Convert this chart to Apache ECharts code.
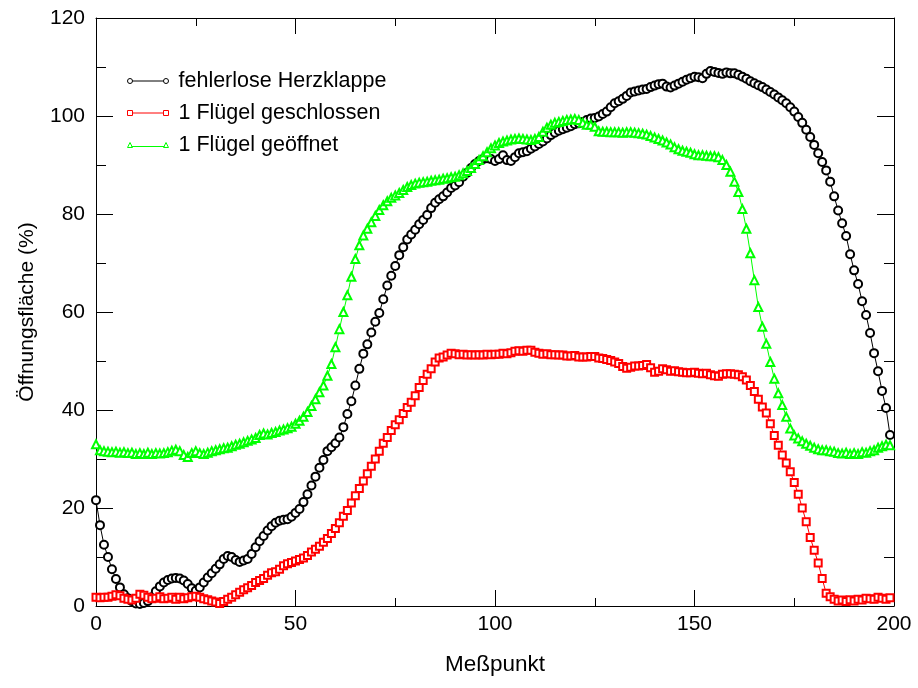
<!DOCTYPE html>
<html>
<head>
<meta charset="utf-8">
<script src="https://cdn.jsdelivr.net/npm/echarts@6/dist/echarts.min.js"></script>
<style>
html,body{margin:0;padding:0;background:#fff;}
#chart{width:918px;height:688px;}
</style>
</head>
<body>
<div id="chart"></div>
<script>
// Messpunkt index 0..199
const measurePoints = Array.from({length: 200}, (_, i) => i);

const seriesNames = ['fehlerlose Herzklappe', '1 Flügel geschlossen', '1 Flügel geöffnet'];

const xTicks = [0, 50, 100, 150, 200];
const yTicks = [0, 20, 40, 60, 80, 100, 120];

const healthyValve = [
21.6,16.5,12.5,10.0,7.5,5.5,3.8,2.4,1.6,1.0,
0.5,0.4,0.6,1.0,1.8,3.0,4.0,4.8,5.3,5.6,
5.7,5.6,5.2,4.5,3.6,3.1,3.8,4.8,5.8,6.7,
7.6,8.5,9.6,10.2,10.0,9.4,9.0,9.3,9.6,10.6,
12.0,13.2,14.3,15.4,16.3,17.0,17.4,17.6,17.7,18.2,
19.0,19.8,21.2,22.8,24.6,26.4,28.2,29.8,31.6,32.4,
33.2,34.4,36.5,39.2,41.8,45.0,48.4,51.5,53.4,55.8,
58.0,59.8,62.6,65.4,67.4,69.4,71.6,73.2,74.8,75.8,
76.8,77.9,78.8,79.8,81.2,82.3,83.0,83.6,84.4,85.3,
85.8,86.5,87.6,88.4,89.4,90.2,90.8,91.2,91.4,91.2,
90.8,91.2,92.0,91.0,90.8,91.6,92.4,92.6,92.8,93.3,
93.8,94.3,94.8,95.4,96.1,96.6,97.0,97.3,97.6,97.9,
98.3,98.5,98.8,99.2,99.5,99.6,99.9,100.4,100.9,101.8,
102.6,103.0,103.5,104.1,104.8,105.0,105.2,105.4,105.5,105.9,
106.2,106.5,106.6,106.0,105.8,106.2,106.6,107.0,107.4,107.7,
108.0,107.9,107.7,108.6,109.2,109.0,108.8,108.6,108.9,108.7,
108.7,108.4,108.0,107.6,107.1,106.7,106.3,105.9,105.4,104.9,
104.4,103.8,103.2,102.6,101.8,100.9,99.8,98.6,97.2,95.7,
94.1,92.4,90.6,88.9,86.6,83.6,80.7,78.1,75.5,71.8,
68.5,65.7,62.2,59.4,55.7,51.6,47.9,43.9,40.4,34.9
];

const leafletClosed = [
1.8,1.7,1.8,1.8,2.0,2.3,2.1,1.6,1.4,1.2,
1.6,2.4,2.2,1.8,1.5,1.6,1.9,1.5,1.6,1.8,
1.4,1.8,1.5,1.7,1.9,2.0,1.8,1.5,1.3,1.0,
0.8,0.5,0.9,1.4,1.8,2.3,2.8,3.3,3.7,4.2,
4.8,5.2,5.6,6.3,6.8,7.0,7.5,8.2,8.6,8.9,
9.2,9.5,9.8,10.3,11.0,11.6,12.2,13.0,13.8,14.8,
15.8,17.0,18.3,19.5,21.0,22.5,24.0,25.5,27.0,28.5,
30.0,31.6,33.2,34.4,35.8,37.0,38.0,39.3,40.5,41.6,
42.9,44.6,46.0,47.3,48.4,49.8,50.6,50.8,51.2,51.6,
51.5,51.3,51.4,51.2,51.3,51.2,51.3,51.2,51.4,51.3,
51.4,51.4,51.6,51.5,51.7,52.0,52.1,52.0,52.2,52.2,
51.8,51.6,51.4,51.5,51.3,51.3,51.2,51.2,51.0,51.0,
51.1,50.8,50.8,50.8,50.9,50.9,50.6,50.5,50.3,50.1,
49.8,49.5,48.9,48.5,48.7,49.0,49.0,49.1,49.3,48.6,
47.7,47.9,48.4,48.2,47.9,48.0,47.8,47.7,47.6,47.6,
47.7,47.5,47.4,47.5,47.2,47.0,46.9,47.3,47.4,47.4,
47.3,47.2,46.8,46.1,45.0,43.8,42.2,40.6,39.4,37.2,
34.8,32.8,30.8,29.2,27.4,25.2,22.8,20.0,17.2,14.0,
11.4,8.8,5.6,2.6,1.9,1.4,1.0,1.2,0.9,1.3,
1.0,1.4,1.2,1.6,1.5,1.4,1.8,1.6,1.4,1.7
];

const leafletOpen = [
33.0,31.8,31.6,31.5,31.4,31.5,31.3,31.4,31.2,31.3,
31.0,31.2,31.0,31.3,31.0,31.2,31.1,31.2,31.4,31.7,
31.9,31.6,30.8,30.4,31.2,31.6,31.2,31.0,31.3,31.6,
31.8,32.0,32.2,32.3,32.6,32.9,33.1,33.4,33.7,34.0,
34.3,34.9,35.2,35.0,35.3,35.5,35.8,36.0,36.3,36.6,
37.2,37.8,38.6,39.6,40.8,42.2,43.6,45.0,47.0,49.4,
52.8,56.5,60.0,63.4,67.2,70.8,73.6,75.6,77.0,78.3,
79.6,80.8,81.8,82.6,83.3,83.8,84.3,84.9,85.5,85.9,
86.2,86.4,86.5,86.6,86.8,86.9,87.0,87.2,87.3,87.5,
87.6,87.9,88.3,88.8,89.4,90.2,91.0,91.8,92.6,93.4,
94.0,94.5,94.8,95.0,95.2,95.3,95.4,95.3,95.2,95.1,
95.3,95.7,96.8,97.6,98.2,98.6,98.8,99.0,99.2,99.3,
99.4,99.2,98.6,98.2,98.2,97.8,96.9,96.8,96.8,96.7,
96.7,96.7,96.6,96.7,96.7,96.6,96.5,96.4,96.2,95.9,
95.6,95.3,95.0,94.6,94.2,93.6,93.2,92.9,92.7,92.5,
92.2,92.0,92.0,91.9,91.8,91.8,91.6,91.0,90.0,88.6,
86.6,84.5,81.0,77.0,72.0,66.5,61.0,57.0,53.5,49.8,
46.4,43.4,41.0,38.6,36.2,34.8,34.2,33.6,33.1,32.7,
32.3,32.0,31.8,31.8,31.6,31.5,31.2,31.1,31.3,31.0,
31.2,31.0,31.4,31.3,31.6,31.8,32.3,32.6,32.9,32.8
];

const FONT = 'Liberation Sans, Arial, Helvetica, sans-serif';

function pairs(vals) { return vals.map((v, i) => [measurePoints[i], v]); }

const chart = echarts.init(document.getElementById('chart'), null, {renderer: 'canvas'});

function xAxisCfg(pos, labels) {
  return {
    type: 'value', position: pos, min: xTicks[0], max: xTicks[xTicks.length - 1],
    interval: xTicks[1] - xTicks[0],
    axisLine: {show: true, onZero: false, lineStyle: {color: '#000', width: 1}},
    axisTick: {show: true, inside: true, length: 16, lineStyle: {color: '#000', width: 1}},
    minorTick: {show: true, splitNumber: 2, length: 8, lineStyle: {color: '#000', width: 1}},
    splitLine: {show: false},
    axisLabel: {show: labels, color: '#000', fontSize: 21, fontFamily: FONT, margin: 8},
    name: labels ? 'Meßpunkt' : '', nameLocation: 'middle', nameGap: 47,
    nameTextStyle: {color: '#000', fontSize: 22.5, fontFamily: FONT}
  };
}
function yAxisCfg(pos, labels) {
  return {
    type: 'value', position: pos, min: yTicks[0], max: yTicks[yTicks.length - 1],
    interval: yTicks[1] - yTicks[0],
    axisLine: {show: true, onZero: false, lineStyle: {color: '#000', width: 1}},
    axisTick: {show: true, inside: true, length: 17, lineStyle: {color: '#000', width: 1}},
    minorTick: {show: true, splitNumber: 2, length: 10, lineStyle: {color: '#000', width: 1}},
    splitLine: {show: false},
    axisLabel: {show: labels, color: '#000', fontSize: 21, fontFamily: FONT, margin: 11},
    name: labels ? 'Öffnungsfläche (%)' : '', nameLocation: 'middle', nameGap: 58, nameRotate: 90,
    nameTextStyle: {color: '#000', fontSize: 21, fontFamily: FONT}
  };
}

const iconCircle = 'path://M0,2.5A2.5,2.5 0 1,1 5,2.5A2.5,2.5 0 1,1 0,2.5ZM5,2.5L36,2.5M36,2.5A2.5,2.5 0 1,1 41,2.5A2.5,2.5 0 1,1 36,2.5Z';
const iconSquare = 'path://M0,0L5,0L5,5L0,5ZM5,2.5L36,2.5M36,0L41,0L41,5L36,5Z';
const iconTriangle = 'path://M2.5,0L5,5L0,5ZM4,4L37,4M38.5,0L41,5L36,5Z';

const colors = ['#000000', '#ff0000', '#00ff00'];
const symbols = ['emptyCircle', 'emptyRect', 'emptyTriangle'];
const sizes = [8, 7, 8];
const icons = [iconCircle, iconSquare, iconTriangle];
const datasets = [healthyValve, leafletClosed, leafletOpen];

chart.setOption({
  animation: false,
  backgroundColor: '#fff',
  grid: {left: 96, right: 24, top: 18, bottom: 82, containLabel: false},
  legend: {
    orient: 'vertical', left: 127, top: 70, padding: 0, itemGap: 10,
    itemWidth: 41, itemHeight: 5, symbolKeepAspect: false,
    textStyle: {color: '#000', fontSize: 21.5, fontFamily: FONT, padding: [0, 0, 0, 5]},
    data: seriesNames.map((n, i) => ({
      name: n, icon: icons[i],
      itemStyle: {color: '#fff', borderColor: colors[i], borderWidth: 1}
    }))
  },
  xAxis: [xAxisCfg('bottom', true), xAxisCfg('top', false)],
  yAxis: [yAxisCfg('left', true), yAxisCfg('right', false)],
  series: seriesNames.map((n, i) => ({
    name: n, type: 'line', xAxisIndex: 0, yAxisIndex: 0,
    data: pairs(datasets[i]),
    symbol: symbols[i], symbolSize: sizes[i], showSymbol: true, showAllSymbol: true,
    lineStyle: {color: colors[i], width: 1},
    itemStyle: {color: colors[i], borderColor: colors[i], borderWidth: 1},
    emphasis: {disabled: true},
    clip: false
  }))
});
</script>
</body>
</html>
